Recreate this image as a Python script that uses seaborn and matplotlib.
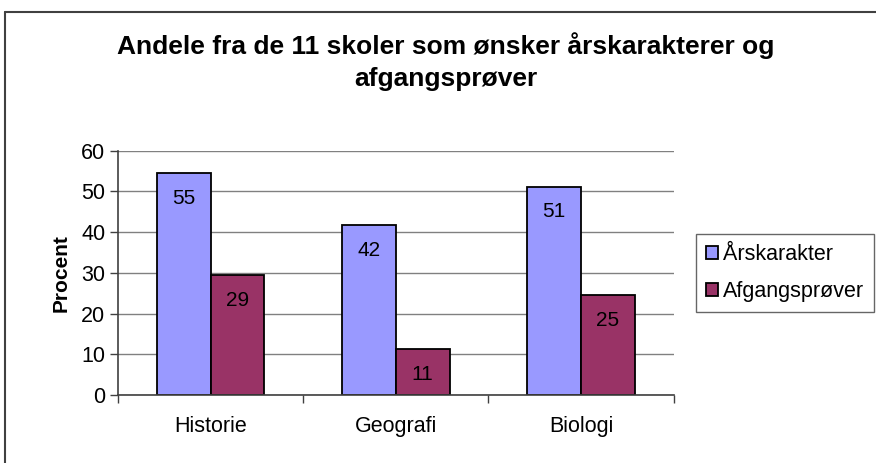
import pandas as pd
import matplotlib.pyplot as plt
import seaborn as sns
from matplotlib.lines import Line2D

# Data
fag = ['Historie', 'Geografi', 'Biologi']
serier = ['Årskarakter', 'Afgangsprøver']
aarskarakter = [54.5, 41.8, 51.2]
afgangsproever = [29.5, 11.3, 24.6]
label_aar = ['55', '42', '51']
label_afg = ['29', '11', '25']
farver = ['#9999FF', '#993366']

df = pd.DataFrame({
    'fag': fag * 2,
    'serie': [serier[0]] * 3 + [serier[1]] * 3,
    'procent': aarskarakter + afgangsproever,
})

sns.set_style('white')
plt.rcParams['font.family'] = ['Liberation Sans', 'DejaVu Sans']
plt.rcParams['text.color'] = 'black'
plt.rcParams['axes.labelcolor'] = 'black'
plt.rcParams['xtick.color'] = 'black'
plt.rcParams['ytick.color'] = 'black'

fig = plt.figure(figsize=(8.76, 4.63), dpi=100)
ax = fig.add_axes([0.1347, 0.1469, 0.769 - 0.1347, 0.6745 - 0.1469])

sns.barplot(data=df, x='fag', y='procent', hue='serie', palette=farver,
            saturation=1, width=0.58, edgecolor='black', linewidth=1.3,
            ax=ax, legend=False)

# data labels
for cont, labs in zip(ax.containers, [label_aar, label_afg]):
    ax.bar_label(cont, labels=labs, label_type='edge', padding=-25,
                 fontsize=15, color='black')

ax.set_ylim(0, 60)
ax.set_yticks(range(0, 61, 10))
ax.set_xlim(-0.5, 2.5)
ax.set_xticks([-0.5, 0.5, 1.5, 2.5])
ax.set_xticklabels([])
ax.set_xticks([0, 1, 2], minor=True)
ax.set_xticklabels(fag, minor=True, fontsize=15.5)
ax.tick_params(axis='x', which='major', length=6, width=1, color='#404040',
               direction='out', bottom=True)
ax.tick_params(axis='x', which='minor', length=0, pad=15)
ax.tick_params(axis='y', length=6, width=1, color='#404040', direction='out',
               left=True, labelsize=15.5, pad=3)
ax.yaxis.grid(True, color='#808080', linewidth=1)
ax.set_axisbelow(True)
for s in ['top', 'right']:
    ax.spines[s].set_visible(False)
for s in ['left', 'bottom']:
    ax.spines[s].set_color('#404040')
    ax.spines[s].set_linewidth(1.2)
ax.set_xlabel('')
ax.set_ylabel('Procent', fontsize=15, fontweight='bold', labelpad=8)

fig.suptitle('Andele fra de 11 skoler som ønsker årskarakterer og\nafgangsprøver',
             x=0.509, y=1 - 32 / 463, va='top', fontsize=19, fontweight='bold',
             linespacing=1.45)

handles = [plt.Rectangle((0, 0), 1, 1, facecolor=c, edgecolor='black', linewidth=1.3)
           for c in farver]
leg = fig.legend(handles, serier, loc='upper left',
                 bbox_to_anchor=(696 / 876, 1 - 234 / 463), fontsize=15.5,
                 frameon=True, fancybox=False, edgecolor='#404040',
                 handlelength=0.55, handleheight=0.55, handletextpad=0.25,
                 labelspacing=0.75, borderpad=0.45, borderaxespad=0)
leg.get_frame().set_linewidth(1)

# outer chart border (left and top visible)
fig.add_artist(Line2D([5 / 876, 5 / 876], [0, 1 - 12 / 463], transform=fig.transFigure,
                      color='#404040', linewidth=1.5))
fig.add_artist(Line2D([5 / 876, 1], [1 - 12 / 463, 1 - 12 / 463], transform=fig.transFigure,
                      color='#404040', linewidth=1.5))

fig.savefig('out.png', dpi=100)
